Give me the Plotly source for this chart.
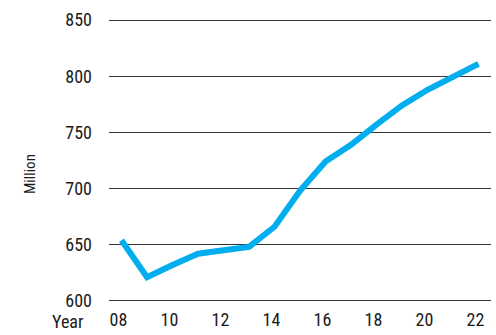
import plotly.graph_objects as go

# Annual figures, in millions
years = [2008, 2009, 2010, 2011, 2012, 2013, 2014, 2015, 2016, 2017, 2018, 2019, 2020, 2021, 2022]
values = [654, 621, 632, 642, 645, 648, 666, 698, 724, 739, 757, 774, 788, 800, 811]

x_tick_vals = [2008, 2010, 2012, 2014, 2016, 2018, 2020, 2022]
x_tick_text = ["08", "10", "12", "14", "16", "18", "20", "22"]
y_tick_vals = [600, 650, 700, 750, 800, 850]

FONT = "Roboto Condensed, Roboto, sans-serif"

# Plot area in pixels
W, H = 496, 335
ML, MR, MT, MB = 109, 5, 19, 33
plot_w = W - ML - MR
plot_h = H - MT - MB


def px_to_paper(x, y):
    return (x - ML) / plot_w, (H - MB - y) / plot_h


fig = go.Figure(
    go.Scatter(
        x=years,
        y=values,
        mode="lines",
        line=dict(color="#00aeef", width=6),
        hoverinfo="skip",
    )
)

year_x, year_y = px_to_paper(68, 321)
mil_x, mil_y = px_to_paper(30, 174)

fig.update_layout(
    width=W,
    height=H,
    margin=dict(l=ML, r=MR, t=MT, b=MB),
    paper_bgcolor="white",
    plot_bgcolor="white",
    showlegend=False,
    font=dict(family=FONT, size=18, color="#1a1a1a"),
    annotations=[
        dict(text="Year", x=year_x, y=year_y, xref="paper", yref="paper", showarrow=False,
             xanchor="center", yanchor="middle", font=dict(size=18)),
        dict(text="Million", x=mil_x, y=mil_y, xref="paper", yref="paper", showarrow=False,
             textangle=-90, xanchor="center", yanchor="middle", font=dict(size=15)),
    ],
)

fig.update_xaxes(
    range=[2007.51, 2022.49],
    tickvals=x_tick_vals,
    ticktext=x_tick_text,
    showgrid=False,
    zeroline=False,
    showline=False,
    ticks="",
    ticklabelshift=-3,
    ticklabelstandoff=5,
)
fig.update_yaxes(
    range=[599, 851],
    tickvals=y_tick_vals,
    showgrid=True,
    gridcolor="#333",
    gridwidth=1.4,
    zeroline=False,
    showline=False,
    ticks="",
    ticklabelstandoff=16,
)

fig.write_html("out.html")
